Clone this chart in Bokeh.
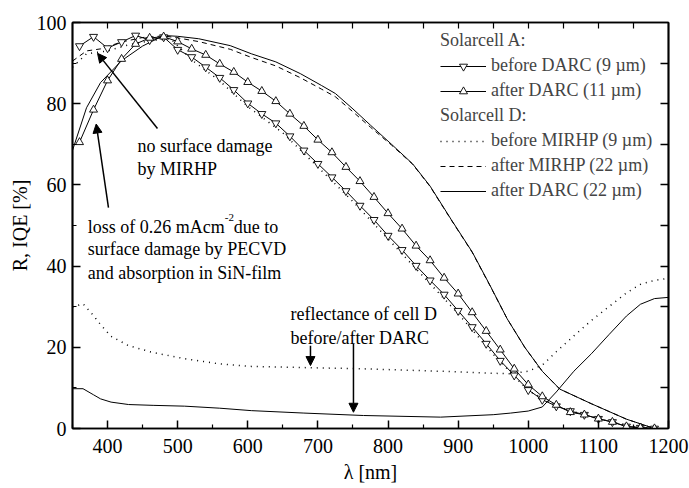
from bokeh.plotting import figure
from bokeh.models import (Range1d, LinearAxis, FixedTicker, Legend, LegendItem,
                          Label, Arrow, NormalHead, ColumnDataSource)
from bokeh.embed import file_html
from bokeh.resources import INLINE

FONT = "'Liberation Serif', 'Times New Roman', 'DejaVu Serif', serif"

# ---------------- data ----------------
# Solarcell A (markers every 20 nm)
wl_A = [360, 380, 400, 420, 440, 460, 480, 500, 520, 540, 560, 580, 600, 620,
        640, 660, 680, 700, 720, 740, 760, 780, 800, 820, 840, 860, 880, 900,
        920, 940, 960, 980, 1000, 1020, 1040, 1060, 1080, 1100, 1120, 1140,
        1160, 1180]
iqe_A_before = [94.2, 96.5, 93.7, 95.2, 96.8, 95.7, 96.4, 93.3, 91.5, 89.0,
                86.4, 83.4, 80.1, 77.5, 75.2, 72.0, 68.5, 65.2, 61.9, 58.5,
                54.9, 51.4, 47.5, 44.0, 40.1, 36.5, 33.0, 29.0, 25.0, 20.9,
                16.7, 13.1, 9.5, 7.1, 5.5, 4.3, 3.4, 2.4, 1.6, 0.5, 0.2, 0.0]
iqe_A_after = [70.5, 78.5, 85.7, 91.0, 94.7, 96.2, 96.5, 95.3, 93.5, 92.0,
               89.8, 87.8, 85.3, 83.1, 80.6, 77.5, 74.5, 71.1, 68.0, 64.4,
               60.9, 57.0, 53.0, 49.2, 45.0, 41.4, 37.1, 33.2, 28.6, 24.0,
               19.4, 14.7, 10.8, 7.9, 5.8, 4.0, 3.4, 2.4, 1.6, 0.5, 0.2, 0.0]

# Solarcell D, before MIRHP (dotted)
wl_D0 = [350, 370, 400, 430, 460, 490, 520, 560, 600, 650, 700, 750, 800,
         850, 900, 950, 1000, 1050, 1100, 1150, 1180]
iqe_D_before = [89.0, 92.3, 93.0, 94.5, 95.5, 96.0, 90.8, 85.6, 79.3, 72.8,
                64.4, 55.9, 46.7, 37.5, 28.3, 18.3, 9.3, 4.9, 2.4, 0.4, 0.0]

# Solarcell D, after MIRHP (dashed) and after DARC (solid)
wl_D = [350, 370, 390, 420, 450, 480, 500, 530, 575, 605, 640, 675, 705, 725,
        750, 775, 805, 835, 860, 890, 920, 945, 970, 995, 1020, 1045, 1090,
        1140, 1180]
iqe_D_mirhp = [90.5, 93.0, 93.5, 95.2, 96.3, 96.7, 96.2, 95.3, 93.4, 91.4,
               89.3, 86.4, 83.6, 81.7, 78.0, 74.2, 69.8, 65.1, 59.6, 51.4,
               43.4, 35.3, 27.0, 20.0, 14.1, 9.7, 6.1, 2.3, 0.0]
iqe_D_darc = [68.5, 79.0, 85.2, 90.6, 94.2, 96.8, 96.6, 96.0, 94.3, 92.3,
              90.3, 87.4, 84.5, 82.5, 78.7, 74.7, 70.0, 65.2, 59.7, 51.5,
              43.5, 35.4, 27.0, 20.0, 14.1, 9.7, 6.1, 2.3, 0.0]

# Reflectance of cell D
wl_R = [350, 365, 380, 390, 405, 430, 465, 510, 560, 605, 680, 765, 875, 950,
        975, 1000, 1020, 1040, 1065, 1090, 1115, 1140, 1160, 1180, 1200]
refl_before = [29.9, 30.7, 27.8, 25.6, 22.7, 20.4, 18.7, 17.2, 15.9, 15.3,
               15.0, 14.7, 14.1, 13.6, 13.5, 14.1, 15.6, 18.9, 22.8, 26.6,
               30.0, 33.4, 35.5, 36.5, 37.0]
refl_after = [9.8, 9.8, 8.3, 7.3, 6.5, 5.9, 5.7, 5.5, 5.0, 4.4, 3.8, 3.2, 2.8,
              3.4, 3.8, 4.3, 5.3, 9.0, 14.1, 18.4, 23.1, 27.7, 30.6, 32.0, 32.3]

# ticks
x_major = [400, 500, 600, 700, 800, 900, 1000, 1100, 1200]
x_minor = [350, 450, 550, 650, 750, 850, 950, 1050, 1150]
x_top = [400, 450, 500, 550, 600, 650, 700, 750, 800, 850, 900, 950, 1000,
         1050, 1100, 1150]
y_major = [0, 20, 40, 60, 80, 100]
y_minor = [10, 30, 50, 70, 90]
y_right = [10, 20, 30, 40, 50, 60, 70, 80, 90]

# ---------------- figure ----------------
p = figure(width=689, height=488, output_backend="svg", toolbar_location=None,
           x_range=Range1d(350, 1200), y_range=Range1d(0, 100),
           min_border_left=72, min_border_right=21, min_border_top=22,
           min_border_bottom=60)
p.grid.visible = False
p.outline_line_color = "black"
p.outline_line_width = 1.7
p.background_fill_color = "white"
p.border_fill_color = "white"


def style_axis(ax):
    ax.axis_line_color = "black"
    ax.axis_line_width = 1.7
    ax.major_tick_line_color = "black"
    ax.major_tick_line_width = 1.5
    ax.minor_tick_line_color = "black"
    ax.minor_tick_line_width = 1.2
    ax.major_tick_out = 0
    ax.minor_tick_out = 0
    ax.major_tick_in = 8
    ax.minor_tick_in = 4
    ax.major_label_text_font = FONT
    ax.major_label_text_font_size = "20px"
    ax.major_label_text_color = "black"
    ax.axis_label_text_font = FONT
    ax.axis_label_text_font_size = "20px"
    ax.axis_label_text_font_style = "normal"
    ax.axis_label_text_color = "black"


xa = p.xaxis[0]
xa.ticker = FixedTicker(ticks=x_major, minor_ticks=x_minor)
xa.axis_label = "λ [nm]"
style_axis(xa)
xa.major_label_standoff = 10
xa.axis_label_standoff = 5

ya = p.yaxis[0]
ya.ticker = FixedTicker(ticks=y_major, minor_ticks=y_minor)
ya.axis_label = "R, IQE [%]"
style_axis(ya)
ya.major_label_standoff = 6
ya.axis_label_standoff = 3

# top and right: ticks only (drawn as minor ticks, so no labels exist)
top = LinearAxis(ticker=FixedTicker(ticks=[], minor_ticks=x_top))
style_axis(top)
top.minor_tick_in = 6
top.major_label_standoff = 0
p.add_layout(top, "above")

right = LinearAxis(ticker=FixedTicker(ticks=[], minor_ticks=y_right))
style_axis(right)
right.minor_tick_in = 8
right.minor_tick_line_width = 1.5
right.major_label_standoff = 0
p.add_layout(right, "right")

# ---------------- curves ----------------
srcA = ColumnDataSource(dict(wl=wl_A, before=iqe_A_before, after=iqe_A_after))

r_refl_b = p.line(wl_R, refl_before, line_color="black", line_width=1.5,
                  line_dash="1 5")
r_refl_a = p.line(wl_R, refl_after, line_color="black", line_width=1)

r_D0 = p.line(wl_D0, iqe_D_before, line_color="black", line_width=1.5,
              line_dash="1 5")
r_Dm = p.line(wl_D, iqe_D_mirhp, line_color="black", line_width=1,
              line_dash="5 4")
r_Dd = p.line(wl_D, iqe_D_darc, line_color="black", line_width=1)

r_A1l = p.line("wl", "before", source=srcA, line_color="black", line_width=1)
r_A2l = p.line("wl", "after", source=srcA, line_color="black", line_width=1)
r_A1m = p.scatter("wl", "before", source=srcA, marker="inverted_triangle",
                  size=8, fill_color="white", line_color="black",
                  line_width=0.9)
r_A2m = p.scatter("wl", "after", source=srcA, marker="triangle",
                  size=8, fill_color="white", line_color="black",
                  line_width=0.9)

# ---------------- legends ----------------
def make_legend(title, items, loc):
    lg = Legend(items=items, title=title, location=loc)
    lg.title_text_font = FONT
    lg.title_text_font_size = "18px"
    lg.title_text_font_style = "normal"
    lg.title_standoff = 4
    lg.label_text_font = FONT
    lg.label_text_font_size = "18px"
    lg.glyph_width = 46
    lg.glyph_height = 20
    lg.label_height = 20
    lg.label_standoff = 5
    lg.spacing = 4
    lg.padding = 0
    lg.margin = 0
    lg.border_line_alpha = 0
    lg.background_fill_alpha = 0
    return lg


leg1 = make_legend("Solarcell A:", [
    LegendItem(label="before DARC (9 µm)", renderers=[r_A1l, r_A1m]),
    LegendItem(label="after DARC (11 µm)", renderers=[r_A2l, r_A2m]),
], (368, 327))
leg2 = make_legend("Solarcell D:", [
    LegendItem(label="before MIRHP (9 µm)", renderers=[r_D0]),
    LegendItem(label="after MIRHP (22 µm)", renderers=[r_Dm]),
    LegendItem(label="after DARC (22 µm)", renderers=[r_Dd]),
], (368, 227))
p.add_layout(leg1)
p.add_layout(leg2)

# ---------------- annotations ----------------
def add_label(text, x, y, size="18px", x_offset=0, y_offset=0):
    p.add_layout(Label(x=x, y=y, text=text, text_font=FONT,
                       text_font_size=size, text_color="black",
                       text_baseline="alphabetic", text_align="left",
                       x_offset=x_offset, y_offset=y_offset))


add_label("no surface damage", 442.7, 69.5)
add_label("by MIRHP", 442.7, 64.0)
add_label("loss of 0.26 mAcm", 371.8, 49.75)
add_label("-2", 371.8, 49.75, size="11px", x_offset=137, y_offset=9)
add_label(" due to", 371.8, 49.75, x_offset=146)
add_label("surface damage by PECVD", 371.8, 44.1)
add_label("and absorption in SiN-film", 371.8, 38.25)
add_label("reflectance of cell D", 660.9, 28.25)
add_label("before/after DARC", 660.9, 22.2)


def add_arrow(x0, y0, x1, y1):
    p.add_layout(Arrow(end=NormalHead(size=9, fill_color="black",
                                      line_color="black", line_width=1),
                       x_start=x0, y_start=y0, x_end=x1, y_end=y1,
                       line_color="black", line_width=1.5))


add_arrow(471.2, 73.9, 385.7, 92.4)
add_arrow(401.3, 54.4, 383.8, 75.0)
add_arrow(689.4, 20.4, 689.4, 15.5)
add_arrow(750.7, 20.9, 750.7, 4.0)

open("out.html", "w").write(file_html(p, INLINE))
